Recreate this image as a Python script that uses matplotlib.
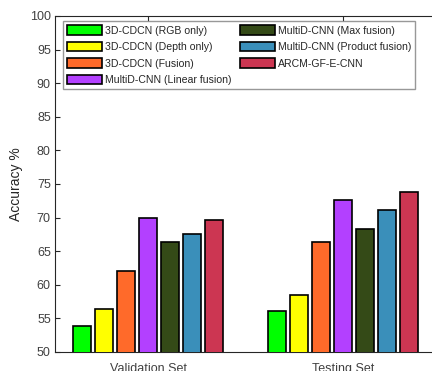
import matplotlib
matplotlib.use("Agg")
import matplotlib.pyplot as plt
import numpy as np

plt.rcParams['font.family'] = ['Liberation Sans', 'DejaVu Sans']

groups = ["Validation Set", "Testing Set"]
methods = ["3D-CDCN (RGB only)", "3D-CDCN (Depth only)", "3D-CDCN (Fusion)",
           "MultiD-CNN (Linear fusion)", "MultiD-CNN (Max fusion)",
           "MultiD-CNN (Product fusion)", "ARCM-GF-E-CNN"]
validation = [53.8, 56.4, 62.0, 69.9, 66.4, 67.5, 69.6]
testing = [56.1, 58.5, 66.3, 72.6, 68.3, 71.2, 73.8]
colors = ["#00FF00", "#FFFF00", "#FF6A2A", "#B340FF", "#344A17", "#3A8FBA", "#CC3652"]
yticks = [50, 55, 60, 65, 70, 75, 80, 85, 90, 95, 100]

fig = plt.figure(figsize=(4.32, 3.71), dpi=100)
ax = fig.add_axes([55/432, 1-352/371, 385.5/432, 336/371])

x = np.arange(1, len(groups)+1)
n = len(methods)
step = 0.113
width = 0.093
data = np.array([validation, testing])
for i, (m, c) in enumerate(zip(methods, colors)):
    ax.bar(x + (i - (n-1)/2)*step, data[:, i], width=width, color=c,
           edgecolor='black', linewidth=1.2, label=m, zorder=3)

ax.set_xlim(0.523, 2.5)
ax.set_ylim(50, 100)
ax.set_yticks(yticks)
ax.set_xticks(x)
ax.set_xticklabels(groups)
ax.tick_params(direction='in', length=3.5, width=0.8, colors='#262626',
               labelsize=9, top=True, right=False)
ax.tick_params(axis='both', labelcolor='#404040')
ax.tick_params(axis='x', pad=8)
ax.tick_params(axis='y', pad=3)
for s in ax.spines.values():
    s.set_color('#262626')
    s.set_linewidth(0.8)
ax.set_ylabel("Accuracy %", fontsize=10, color='#262626', labelpad=5)

leg = ax.legend(ncol=2, loc='upper left', bbox_to_anchor=(0.02, 0.985),
                fontsize=7.6, frameon=True, fancybox=False,
                edgecolor='#7f7f7f', handlelength=3.3, handleheight=1.0,
                handletextpad=0.3, columnspacing=0.8, labelspacing=0.58,
                borderpad=0.4, borderaxespad=0.0)
leg.get_frame().set_linewidth(1.0)
for t in leg.get_texts():
    t.set_color('#262626')

fig.savefig("out.png", dpi=100)
